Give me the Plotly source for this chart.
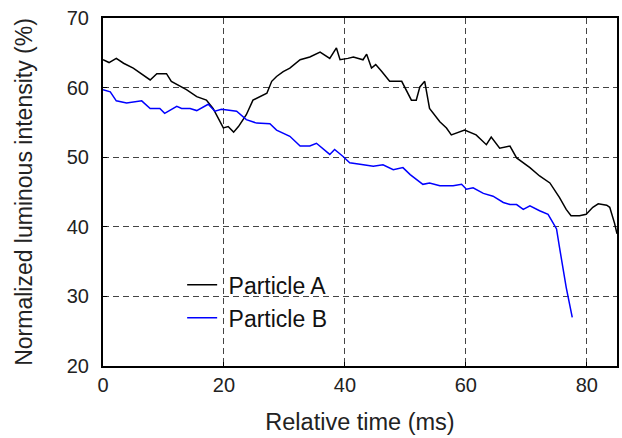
import plotly.graph_objects as go

# Particle A (black)
a_t = [0, 1.0, 2.2, 3.4, 5.0, 6.9, 7.8, 8.9, 10.5, 11.3, 12.4, 13.8, 15.5, 17.1, 18.2, 19.1, 19.9,
       20.7, 21.6, 22.4, 23.7, 24.8, 25.9, 27.1, 27.9, 28.7, 29.8, 30.9, 32.6, 34.2, 35.9, 37.5,
       38.6, 39.2, 40.5, 41.4, 43.0, 43.6, 44.4, 45.1, 46.1, 47.4, 49.4, 51.0, 51.8, 52.4, 53.2,
       54.0, 55.7, 56.8, 57.6, 59.8, 61.7, 63.4, 64.2, 65.6, 67.3, 68.4, 70.6, 72.2, 73.9, 75.5,
       76.6, 77.4, 78.8, 79.9, 81.0, 81.9, 83.3, 83.8, 84.6, 85.0]
a_v = [64.0, 63.6, 64.2, 63.5, 62.8, 61.6, 61.1, 62.0, 62.0, 60.9, 60.4, 59.7, 58.7, 58.2, 57.0, 55.6, 54.2,
       54.4, 53.6, 54.4, 56.1, 58.2, 58.7, 59.2, 60.9, 61.6, 62.3, 62.8, 64.0, 64.4, 65.1, 64.2,
       65.7, 64.0, 64.2, 64.4, 64.0, 64.8, 62.8, 63.3, 62.3, 60.9, 60.9, 58.2, 58.2, 60.1, 60.9,
       57.0, 55.1, 54.2, 53.2, 53.9, 53.2, 51.8, 52.9, 51.3, 51.6, 49.9, 48.5, 47.3, 46.3, 44.2,
       42.5, 41.6, 41.6, 41.8, 42.8, 43.3, 43.1, 42.8, 40.5, 39.0]

# Particle B (blue)
b_t = [0, 1.2, 2.2, 3.9, 6.4, 7.8, 9.4, 10.2, 12.2, 13.0, 14.4, 15.5, 17.4, 18.5, 19.6, 22.1,
       23.7, 25.4, 27.6, 28.7, 30.9, 32.6, 34.2, 35.3, 37.5, 38.3, 39.7, 40.8, 42.5, 44.7, 46.3,
       48.0, 49.6, 50.8, 52.9, 54.0, 55.7, 57.9, 59.3, 60.1, 61.2, 62.9, 64.5, 66.2, 67.3, 68.4,
       69.5, 70.6, 72.2, 73.6, 74.4, 75.0, 75.5, 76.6, 77.6]
b_v = [59.7, 59.4, 58.1, 57.8, 58.1, 57.0, 57.0, 56.3, 57.3, 57.0, 57.0, 56.7, 57.6, 56.6, 56.9, 56.6,
       55.4, 54.9, 54.8, 53.9, 53.0, 51.6, 51.6, 52.0, 50.4, 51.1, 50.1, 49.2, 49.0, 48.7, 48.9,
       48.2, 48.5, 47.5, 46.1, 46.3, 45.9, 45.9, 46.1, 45.4, 45.6, 44.8, 44.4, 43.5, 43.2, 43.2,
       42.5, 43.0, 42.3, 41.8, 40.6, 39.7, 37.0, 31.3, 27.0]

x_ticks = [0, 20, 40, 60, 80]
y_ticks = [20, 30, 40, 50, 60, 70]

fig = go.Figure()
fig.add_trace(go.Scatter(x=a_t, y=a_v, mode="lines", name=" Particle A",
                         line=dict(color="black", width=1.5)))
fig.add_trace(go.Scatter(x=b_t, y=b_v, mode="lines", name=" Particle B",
                         line=dict(color="#0000ff", width=1.5)))

font = "Liberation Sans, Arial, sans-serif"
axis_common = dict(showline=True, linecolor="black", linewidth=2, mirror=True,
                   ticks="inside", ticklen=4, tickcolor="black", automargin=False,
                   showgrid=True, gridcolor="#444444", gridwidth=1, griddash="6px,4px",
                   zeroline=False, tickfont=dict(family=font, size=20, color="#222"))

fig.update_xaxes(range=[0, 85], tickvals=x_ticks,
                 title=dict(text="Relative time (ms)", font=dict(family=font, size=23.5, color="#222"), standoff=19),
                 **axis_common)
fig.update_yaxes(range=[20, 70], tickvals=y_ticks, ticklabelstandoff=8,
                 title=dict(text="Normalized luminous intensity (%)", font=dict(family=font, size=23, color="#222"), standoff=28),
                 **axis_common)

fig.update_layout(width=622, height=438,
                  margin=dict(l=103, r=5, t=18, b=72),
                  paper_bgcolor="white", plot_bgcolor="white",
                  showlegend=True,
                  legend=dict(x=0.154, y=0.295, xanchor="left", yanchor="top",
                              bgcolor="rgba(0,0,0,0)", font=dict(family=font, size=23, color="#111"),
                              itemwidth=30))

fig.write_html("out.html", config={"displayModeBar": False},
               post_script="document.body.style.margin='0';")
